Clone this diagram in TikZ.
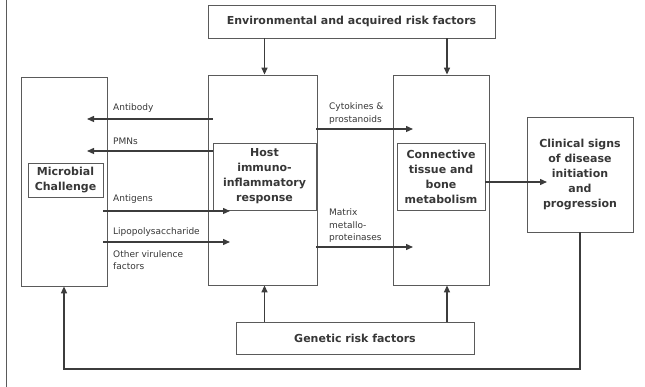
\documentclass[tikz,border=0pt]{standalone}
\usepackage{fontspec}
\setmainfont{DejaVu Sans}
\usepackage{tikz}
\usetikzlibrary{arrows.meta,positioning,calc}
\definecolor{lineGray}{RGB}{90,90,90}
\definecolor{arrowGray}{RGB}{60,60,60}
\definecolor{textGray}{RGB}{55,55,55}

\begin{document}
\begin{tikzpicture}[x=1pt, y=-1pt,
      box/.style={draw=lineGray, line width=0.8pt, inner sep=0pt, align=center},
      boldtext/.style={font=\bfseries\fontsize{11}{15}\selectfont, text=textGray},
      smalltext/.style={anchor=west, inner sep=0pt, align=left, font=\fontsize{9}{12.5}\selectfont, text=textGray},
      flow/.style={draw=arrowGray, line width=1.3pt, -{Triangle[length=7pt,width=6pt]}}
    ]
      \useasboundingbox (0,0) rectangle (645,387);
      \draw[lineGray, line width=1pt] (6,0) -- (6,387);

      % outer columns
      \node[box, boldtext, minimum width=287pt, minimum height=33pt] (env) at (351.5,21.5) {Environmental and acquired risk factors};
      \node[box, minimum width=86pt, minimum height=209pt] (micro) at (64,181.5) {};
      \node[box, minimum width=109pt, minimum height=210pt] (host) at (262.5,180) {};
      \node[box, minimum width=96pt, minimum height=210pt] (conn) at (441,180) {};

      % inner boxes
      \node[box, boldtext, minimum width=75pt, minimum height=34pt] (microin) at (65.5,180) {Microbial\\Challenge};
      \node[box, boldtext, minimum width=103pt, minimum height=67pt] (hostin) at (264.5,176.5) {Host\\immuno-\\inflammatory\\response};
      \node[box, boldtext, minimum width=88pt, minimum height=67pt] (connin) at (441,176.5) {Connective\\tissue and\\bone\\metabolism};
      \node[box, boldtext, minimum width=106pt, minimum height=115pt] (clin) at (580,174.5) {Clinical signs\\of disease\\initiation\\and\\progression};
      \node[box, boldtext, minimum width=238pt, minimum height=32pt] (gen) at (355,338) {Genetic risk factors};

      % labels
      \node[smalltext] (ab) at (113,108) {Antibody};
      \node[smalltext] (pmn) at (113,141) {PMNs};
      \node[smalltext] (ag) at (113,199) {Antigens};
      \node[smalltext] (lps) at (113,232) {Lipopolysaccharide};
      \node[smalltext] (vir) at (113,260) {Other virulence\\factors};
      \node[smalltext] (ck) at (329,113.5) {Cytokines \&\\prostanoids};
      \node[smalltext] (mmp) at (329,226) {Matrix\\metallo-\\proteinases};

      % arrow ends
      \coordinate (abtip) at (87,119);
      \coordinate (pmtip) at (87,151);
      \coordinate (agtip) at (230,211);
      \coordinate (lptip) at (230,242);
      \coordinate (cktip) at (413,129);
      \coordinate (mmtip) at (413,247);
      \coordinate (cltip) at (547,182);
      \coordinate (rcol) at (447,0);
      \coordinate (fb) at (micro.south |- 0,369);

      \draw[flow] (hostin.west |- abtip) -- (abtip);
      \draw[flow] (hostin.west |- pmtip) -- (pmtip);
      \draw[flow] (microin.east |- agtip) -- (agtip);
      \draw[flow] (microin.east |- lptip) -- (lptip);
      \draw[flow] (hostin.east |- cktip) -- (cktip);
      \draw[flow] (hostin.east |- mmtip) -- (mmtip);
      \draw[flow] (connin.east |- cltip) -- (cltip);

      \draw[flow] (env.south -| hostin) -- (host.north -| hostin);
      \draw[flow] (env.south -| rcol) -- (conn.north -| rcol);
      \draw[flow] (gen.north -| hostin) -- (host.south -| hostin);
      \draw[flow] (gen.north -| rcol) -- (conn.south -| rcol);

      \draw[flow] (clin.south) |- (fb) -- (micro.south);
    \end{tikzpicture}
\end{document}
